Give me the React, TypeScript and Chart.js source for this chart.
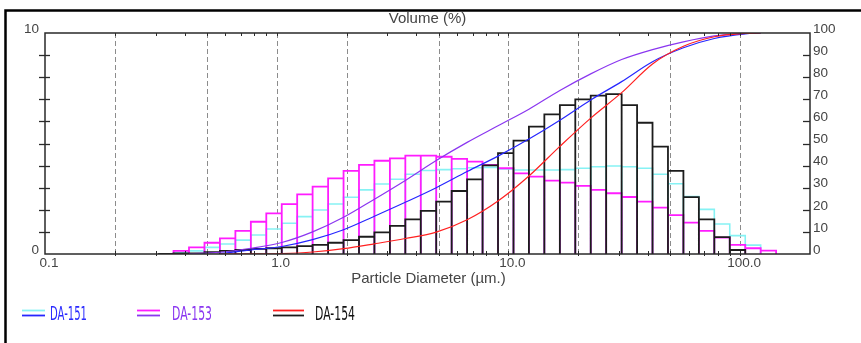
import React, { useEffect, useRef } from "react";
import { Chart, registerables } from "chart.js";

Chart.register(...registerables);

// ---- data -------------------------------------------------------------
// histogram bin edges (µm), 41 edges -> 40 bins
const binEdges = [
  0.3077, 0.3587, 0.4182, 0.4878, 0.5685, 0.663, 0.7731, 0.9013, 1.051, 1.225,
  1.428, 1.666, 1.942, 2.264, 2.639, 3.078, 3.588, 4.183, 4.877, 5.686, 6.63,
  7.729, 9.011, 10.51, 12.25, 14.28, 16.66, 19.42, 22.64, 26.39, 30.78, 35.88,
  41.83, 48.77, 56.86, 66.3, 77.29, 90.11, 105.1, 122.5, 142.8,
];

// volume % per bin (left axis)
const da151Hist = [
  null, 0.06, 0.14, 0.3, 0.45, 0.63, 0.86, 1.13, 1.39, 1.69, 1.99, 2.26, 2.57,
  2.9, 3.17, 3.38, 3.61, 3.78, 3.82, 3.86, 3.9, 3.92, 3.85, 3.8, 3.8, 3.8, 3.82,
  3.88, 3.95, 3.98, 3.95, 3.88, 3.61, 3.18, 2.6, 2.02, 1.36, 0.83, 0.4, null,
];
const da153Hist = [
  null, 0.14, 0.3, 0.51, 0.71, 1.05, 1.46, 1.84, 2.26, 2.7, 3.05, 3.42, 3.76,
  4.03, 4.22, 4.33, 4.45, 4.45, 4.4, 4.3, 4.18, 4.03, 3.88, 3.65, 3.5, 3.32,
  3.23, 3.08, 2.9, 2.75, 2.58, 2.37, 2.1, 1.76, 1.42, 1.05, 0.74, 0.41, 0.26, 0.15,
];
const da154Hist = [
  0, 0.03, 0.03, 0.08, 0.14, 0.18, 0.23, 0.26, 0.3, 0.36, 0.41, 0.51, 0.63,
  0.78, 0.98, 1.27, 1.57, 1.95, 2.37, 2.85, 3.38, 4.01, 4.56, 5.13, 5.76, 6.32,
  6.74, 7.0, 7.17, 7.23, 6.74, 5.94, 4.86, 3.76, 2.57, 1.57, 0.76, 0.18, null, null,
];

// cumulative volume % (right axis)
const cumSizes = [
  0.4182, 0.5685, 0.7731, 1.051, 1.428, 1.942, 2.639, 3.588, 4.877, 6.63, 9.011,
  12.25, 16.66, 22.64, 30.78, 41.83, 56.86, 77.29, 105.1, 122.5,
];
const da151Cum = [
  null, 0.2, 1.8, 3.4, 6.5, 11.0, 17.1, 23.4, 30.0, 37.3, 44.3, 52.0, 60.5, 69.7,
  78.0, 87.0, 93.3, 97.5, 99.6, 100,
];
const da153Cum = [
  0.1, 0.8, 2.6, 5.2, 10.0, 16.6, 24.8, 33.3, 42.3, 50.5, 58.0, 65.5, 74.0, 81.5,
  88.0, 92.5, 96.0, 98.7, 99.8, 100,
];
const da154Cum = [
  null, 0, 0.05, 0.2, 0.9, 2.4, 4.6, 7.0, 9.9, 15.5, 24.0, 35.3, 48.7, 61.5, 73.0,
  86.0, 94.0, 98.3, 99.8, 100,
];

const seriesNames = ["DA-151", "DA-153", "DA-154"];

// axes
const xTickValues = [0.1, 1, 10, 100];
const xTickLabels = ["0.1", "1.0", "10.0", "100.0"];
const xGridValues = [0.2, 0.5, 1, 2, 5, 10, 20, 50, 100];
const leftTickValues = [0, 10];
const rightTickValues = [0, 10, 20, 30, 40, 50, 60, 70, 80, 90, 100];
const chartTitle = "Volume (%)";
const xAxisTitle = "Particle Diameter (µm.)";

// ---- styles -----------------------------------------------------------
const FONT = '"Liberation Sans", Arial, Helvetica, sans-serif';
const NARROW = '"Liberation Sans Narrow", "DejaVu Sans Condensed", "Liberation Sans", sans-serif';
const COLORS = {
  cyan: "#86f2f4",
  blue: "#2626ff",
  magenta: "#ff1cff",
  purple: "#8a36f0",
  red: "#ff2020",
  black: "#1c1c1c",
};

function histPath(edges: number[], values: (number | null)[]) {
  const pts: { x: number; y: number }[] = [];
  values.forEach((v, i) => {
    if (v == null) return;
    pts.push(
      { x: edges[i], y: 0 },
      { x: edges[i], y: v },
      { x: edges[i + 1], y: v },
      { x: edges[i + 1], y: 0 }
    );
  });
  return pts;
}

function curve(values: (number | null)[]) {
  const pts: { x: number; y: number }[] = [];
  values.forEach((v, i) => {
    if (v != null) pts.push({ x: cumSizes[i], y: v });
  });
  return pts;
}

const decorPlugin = {
  id: "decor",
  beforeDatasetsDraw(chart: any) {
    const { ctx, chartArea: a, scales } = chart;
    const x = scales.x;
    ctx.save();
    ctx.strokeStyle = "#8c8c8c";
    ctx.lineWidth = 1;
    ctx.setLineDash([5, 3]);
    xGridValues.forEach((v) => {
      const px = Math.round(x.getPixelForValue(v)) + 0.5;
      ctx.beginPath();
      ctx.moveTo(px, a.top);
      ctx.lineTo(px, a.bottom);
      ctx.stroke();
    });
    ctx.restore();
  },
  afterDraw(chart: any) {
    const { ctx, chartArea: a, scales } = chart;
    const x = scales.x;
    const y = scales.y;
    const y2 = scales.y2;
    ctx.save();

    // outer frame (top + left)
    ctx.strokeStyle = "#000";
    ctx.lineWidth = 2.5;
    ctx.beginPath();
    ctx.moveTo(5.5, 343);
    ctx.lineTo(5.5, 10.5);
    ctx.lineTo(861, 10.5);
    ctx.stroke();

    // plot border
    ctx.strokeStyle = "#2a2a2a";
    ctx.lineWidth = 1.5;
    ctx.strokeRect(a.left, a.top, a.right - a.left, a.bottom - a.top);

    // x minor ticks (top and bottom)
    ctx.lineWidth = 1;
    for (const d of [0.1, 1, 10, 100]) {
      for (let m = 1; m <= 9; m++) {
        const v = m * d;
        if (v <= 0.1 || v >= 200) continue;
        const px = Math.round(x.getPixelForValue(v)) + 0.5;
        ctx.beginPath();
        ctx.moveTo(px, a.top);
        ctx.lineTo(px, a.top + 3);
        ctx.moveTo(px, a.bottom - 3);
        ctx.lineTo(px, a.bottom + 2);
        ctx.stroke();
      }
    }
    // left axis ticks
    ctx.lineWidth = 1.3;
    for (let v = 1; v <= 9; v++) {
      const py = Math.round(y.getPixelForValue(v)) + 0.5;
      ctx.beginPath();
      ctx.moveTo(a.left - 6, py);
      ctx.lineTo(a.left + 5, py);
      ctx.stroke();
    }
    // right axis ticks
    for (let v = 10; v <= 90; v += 10) {
      const py = Math.round(y2.getPixelForValue(v)) + 0.5;
      ctx.beginPath();
      ctx.moveTo(a.right - 7, py);
      ctx.lineTo(a.right, py);
      ctx.stroke();
    }

    // titles
    const cx = (a.left + a.right) / 2;
    ctx.fillStyle = "#444";
    ctx.font = `15px ${FONT}`;
    ctx.textAlign = "center";
    ctx.textBaseline = "middle";
    ctx.fillText(chartTitle, cx, 18.5);
    ctx.fillText(xAxisTitle, cx + 1, 279);

    // legend
    const legend = [
      { name: seriesNames[0], top: COLORS.cyan, bottom: COLORS.blue, text: "#2a2aff", x0: 22, x1: 45, tx: 50, tw: 37 },
      { name: seriesNames[1], top: COLORS.magenta, bottom: COLORS.purple, text: "#8a36f0", x0: 137, x1: 160, tx: 172, tw: 40 },
      { name: seriesNames[2], top: COLORS.red, bottom: COLORS.black, text: "#111", x0: 273, x1: 304, tx: 315, tw: 40 },
    ];
    ctx.lineWidth = 1.8;
    legend.forEach((it) => {
      ctx.strokeStyle = it.top;
      ctx.beginPath();
      ctx.moveTo(it.x0, 310.5);
      ctx.lineTo(it.x1, 310.5);
      ctx.stroke();
      ctx.strokeStyle = it.bottom;
      ctx.beginPath();
      ctx.moveTo(it.x0, 315.5);
      ctx.lineTo(it.x1, 315.5);
      ctx.stroke();
      ctx.save();
      ctx.font = `20px ${NARROW}`;
      ctx.textAlign = "left";
      ctx.textBaseline = "middle";
      const w = ctx.measureText(it.name).width || 1;
      ctx.translate(it.tx, 314.5);
      ctx.scale(it.tw / w, 1);
      ctx.fillStyle = it.text;
      ctx.fillText(it.name, 0, 0);
      ctx.restore();
    });

    ctx.restore();
  },
};

export default function App() {
  const canvasRef = useRef<HTMLCanvasElement | null>(null);

  useEffect(() => {
    const canvas = canvasRef.current;
    if (!canvas) return;
    Chart.defaults.font.family = FONT;

    const lineBase = {
      pointRadius: 0,
      pointHoverRadius: 0,
      fill: false,
      showLine: true,
    };

    const chart = new Chart(canvas, {
      type: "line",
      data: {
        datasets: [
          { ...lineBase, label: "DA-154 cum", data: curve(da154Cum), borderColor: COLORS.red, borderWidth: 1.2, cubicInterpolationMode: "monotone", yAxisID: "y2", order: 0 },
          { ...lineBase, label: "DA-151 cum", data: curve(da151Cum), borderColor: COLORS.blue, borderWidth: 1.2, cubicInterpolationMode: "monotone", yAxisID: "y2", order: 0 },
          { ...lineBase, label: "DA-153 cum", data: curve(da153Cum), borderColor: COLORS.purple, borderWidth: 1.2, cubicInterpolationMode: "monotone", yAxisID: "y2", order: 0 },
          { ...lineBase, label: "DA-154", data: histPath(binEdges, da154Hist), borderColor: COLORS.black, borderWidth: 1.8, tension: 0, borderJoinStyle: "miter", yAxisID: "y", order: 1 },
          { ...lineBase, label: "DA-153", data: histPath(binEdges, da153Hist), borderColor: COLORS.magenta, borderWidth: 1.8, tension: 0, borderJoinStyle: "miter", yAxisID: "y", order: 2 },
          { ...lineBase, label: "DA-151", data: histPath(binEdges, da151Hist), borderColor: COLORS.cyan, borderWidth: 1.6, tension: 0, borderJoinStyle: "miter", yAxisID: "y", order: 3 },
        ] as any,
      },
      options: {
        animation: false,
        responsive: false,
        devicePixelRatio: 1,
        events: [],
        layout: { padding: { top: 33, bottom: 69, left: 0, right: 0 } },
        plugins: {
          legend: { display: false },
          tooltip: { enabled: false },
          title: { display: false },
        },
        scales: {
          x: {
            type: "logarithmic",
            min: 0.1,
            max: 200,
            position: "bottom",
            grid: { display: false, drawTicks: false },
            border: { display: false },
            afterBuildTicks: (s: any) => {
              s.ticks = xTickValues.map((v) => ({ value: v }));
            },
            afterFit: (s: any) => {
              s.height = 20;
            },
            ticks: {
              autoSkip: false,
              maxRotation: 0,
              padding: 1,
              labelOffset: 4,
              color: "#444",
              font: { size: 13.5 },
              callback: (_v: any, i: number) => xTickLabels[i],
            },
          },
          y: {
            type: "linear",
            min: 0,
            max: 10,
            position: "left",
            grid: { display: false, drawTicks: false },
            border: { display: false },
            afterBuildTicks: (s: any) => {
              s.ticks = leftTickValues.map((v) => ({ value: v }));
            },
            afterFit: (s: any) => {
              s.width = 45;
            },
            ticks: {
              padding: 6,
              labelOffset: -4,
              color: "#444",
              font: { size: 13.5 },
              callback: (v: any) => String(v),
            },
          },
          y2: {
            type: "linear",
            min: 0,
            max: 100,
            position: "right",
            grid: { display: false, drawTicks: false },
            border: { display: false },
            afterBuildTicks: (s: any) => {
              s.ticks = rightTickValues.map((v) => ({ value: v }));
            },
            afterFit: (s: any) => {
              s.width = 51;
            },
            ticks: {
              padding: 3,
              labelOffset: -4,
              color: "#444",
              font: { size: 13.5 },
              callback: (v: any) => String(v),
            },
          },
        },
      } as any,
      plugins: [decorPlugin],
    });

    return () => chart.destroy();
  }, []);

  return (
    <div style={{ position: "fixed", left: 0, top: 0, width: 861, height: 343, background: "#fff" }}>
      <canvas ref={canvasRef} width={861} height={343} style={{ display: "block" }} />
    </div>
  );
}
